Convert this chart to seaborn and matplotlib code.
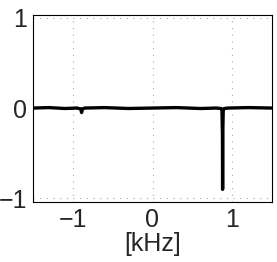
import numpy as np
import pandas as pd
import seaborn as sns
import matplotlib
matplotlib.use('Agg')
import matplotlib.pyplot as plt

# Spectrum trace (kHz, normalised amplitude)
freq_khz = [-1.5, -1.3, -1.1, -0.95, -0.9, -0.89, -0.88, -0.85, -0.6, -0.3,
            0.0, 0.3, 0.6, 0.8, 0.86, 0.872, 0.878, 0.88, 0.882, 0.888, 0.9, 0.95, 1.2, 1.5]
amplitude = [0.0, 0.005, -0.005, 0.0, -0.01, -0.05, -0.01, 0.0, 0.005, -0.005,
             0.0, 0.005, -0.005, 0.0, -0.005, -0.02, -0.3, -0.9, -0.3, -0.02, -0.005, 0.0, 0.005, 0.0]

x_ticks = [-1, 0, 1]
y_ticks = [-1, 0, 1]

df = pd.DataFrame({'freq': freq_khz, 'amp': amplitude})

sns.set_style('white')
plt.rcParams['font.family'] = ['Liberation Sans', 'DejaVu Sans']

fig = plt.figure(figsize=(2.77, 2.62), dpi=100)
ax = fig.add_axes([33 / 277, 1 - 202 / 262, 239 / 277, 187 / 262])

sns.lineplot(data=df, x='freq', y='amp', color='black', linewidth=2.4, ax=ax)

ax.set_xlim(-1.5, 1.5)
ax.set_ylim(-1.04, 1.03)
ax.set_xticks(x_ticks)
ax.set_yticks(y_ticks)
ax.set_xticklabels(['\u22121', '0', '1'])
ax.set_yticklabels(['\u22121', '0', '1'])
ax.grid(True, linestyle=(0, (1, 5)), color='#aaaaaa', linewidth=0.8)
ax.tick_params(direction='in', length=3, labelsize=18, pad=4, color='black')
ax.set_xlabel('[kHz]', fontsize=18, labelpad=0)
ax.set_ylabel('')
for s in ax.spines.values():
    s.set_color('black')
    s.set_linewidth(0.8)

fig.savefig('out.png', dpi=100)
